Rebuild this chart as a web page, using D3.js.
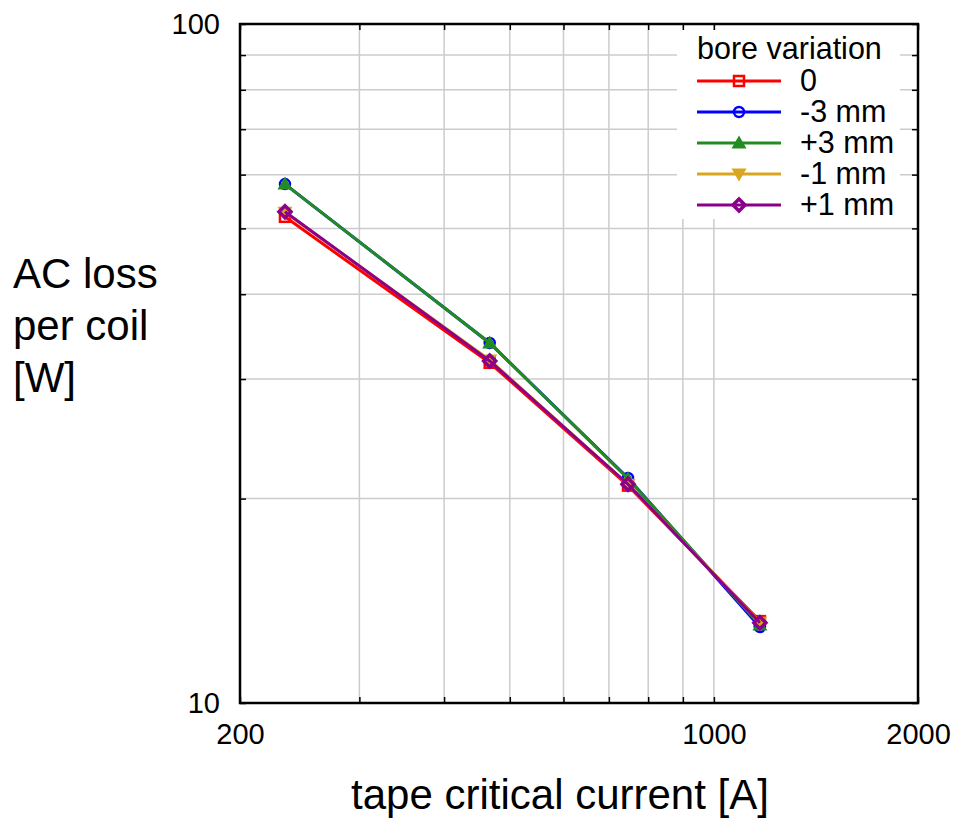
<!DOCTYPE html>
<html>
<head>
<meta charset="utf-8">
<script src="https://cdn.jsdelivr.net/npm/d3@7/dist/d3.min.js"></script>
<style>
  html, body { margin: 0; padding: 0; background: #fff; }
  svg { display: block; font-family: "Liberation Sans", Arial, sans-serif; }
</style>
</head>
<body>
<svg id="chart" width="959" height="818"></svg>
<script>
// ---- data ----
const current = [233, 467, 747, 1169];           // tape critical current [A]
const loss0   = [52.0, 31.7, 20.9, 13.2];        // bore variation 0
const lossM3  = [58.1, 33.9, 21.45, 12.94];      // -3 mm
const lossP3  = [58.1, 33.9, 21.4, 13.03];       // +3 mm
const lossM1  = [52.8, 32.0, 21.0, 13.15];       // -1 mm
const lossP1  = [52.9, 31.9, 21.0, 13.13];       // +1 mm
const seriesNames = ["0", "-3 mm", "+3 mm", "-1 mm", "+1 mm"];
const xTickLabels = [200, 1000, 2000];
const yTickLabels = [10, 100];
const xGrid = [300, 400, 500, 600, 700, 800, 900, 1000];
const yGrid = [20, 30, 40, 50, 60, 70, 80, 90];

// ---- layout ----
const svg = d3.select("#chart");
const L = 240, R = 918, T = 24, B = 703;
const x = d3.scaleLog().domain([200, 2000]).range([L, R]);
const y = d3.scaleLog().domain([10, 100]).range([B, T]);

const colors = ["#ff0000", "#0000ff", "#228b22", "#daa520", "#8b008b"];
const markers = ["square", "circle", "triangle", "triangleDown", "diamond"];
const seriesValues = [loss0, lossM3, lossP3, lossM1, lossP1];
const series = seriesNames.map((n, i) => ({
  name: n, color: colors[i], marker: markers[i],
  pts: current.map((c, j) => ({ x: c, y: seriesValues[i][j] }))
}));

// grid
const grid = svg.append("g").attr("stroke", "#cccccc").attr("stroke-width", 1.5);
grid.selectAll(".gx").data(xGrid).join("line")
  .attr("x1", d => x(d)).attr("x2", d => x(d)).attr("y1", T).attr("y2", B);
grid.selectAll(".gy").data(yGrid).join("line")
  .attr("x1", L).attr("x2", R).attr("y1", d => y(d)).attr("y2", d => y(d));

// legend background (covers grid)
const lgX = 677, lgY = 30;
svg.append("rect").attr("x", lgX).attr("y", lgY).attr("width", 223).attr("height", 189).attr("fill", "#fff");

// ticks (inward) via d3 axes
function tickAxis(axisFn, scale, vals, transform) {
  const g = svg.append("g").attr("transform", transform)
    .call(axisFn(scale).tickValues(vals).tickSize(-6).tickFormat(""));
  g.select(".domain").remove();
  g.selectAll(".tick line").attr("stroke", "#000").attr("stroke-width", 1.5);
  return g;
}
const xTickVals = [200].concat(xGrid).concat([2000]);
const yTickVals = [10].concat(yGrid).concat([100]);
tickAxis(d3.axisBottom, x, xTickVals, `translate(0,${B})`);
tickAxis(d3.axisTop, x, xTickVals, `translate(0,${T})`);
tickAxis(d3.axisLeft, y, yTickVals, `translate(${L},0)`);
tickAxis(d3.axisRight, y, yTickVals, `translate(${R},0)`);

// tick labels
const xl = svg.append("g").attr("transform", `translate(0,${B})`)
  .call(d3.axisBottom(x).tickValues(xTickLabels).tickSize(0).tickPadding(20).tickFormat(d3.format("d")));
xl.select(".domain").remove();
xl.selectAll("text").attr("font-size", 29).attr("fill", "#000")
  .attr("font-family", "Liberation Sans, Arial, sans-serif");
const yl = svg.append("g").attr("transform", `translate(${L},0)`)
  .call(d3.axisLeft(y).tickValues(yTickLabels).tickSize(0).tickPadding(20).tickFormat(d3.format("d")));
yl.select(".domain").remove();
yl.selectAll("text").attr("font-size", 29).attr("fill", "#000")
  .attr("font-family", "Liberation Sans, Arial, sans-serif");

// frame
svg.append("rect").attr("x", L).attr("y", T).attr("width", R - L).attr("height", B - T)
  .attr("fill", "none").attr("stroke", "#000").attr("stroke-width", 2.5);

// markers
function drawMarker(g, type, cx, cy, color) {
  const s = 5.5;
  if (type === "square") {
    g.append("rect").attr("x", cx - s + 0.5).attr("y", cy - s + 0.5).attr("width", 2 * s - 1).attr("height", 2 * s - 1)
      .attr("fill", "none").attr("stroke", color).attr("stroke-width", 2.5);
  } else if (type === "circle") {
    g.append("circle").attr("cx", cx).attr("cy", cy).attr("r", s - 0.5)
      .attr("fill", "none").attr("stroke", color).attr("stroke-width", 2.5);
  } else if (type === "triangle") {
    g.append("path").attr("d", `M${cx},${cy - 7.5}L${cx + 7.5},${cy + 5.5}L${cx - 7.5},${cy + 5.5}Z`).attr("fill", color);
  } else if (type === "triangleDown") {
    g.append("path").attr("d", `M${cx},${cy + 7.5}L${cx + 7.5},${cy - 5.5}L${cx - 7.5},${cy - 5.5}Z`).attr("fill", color);
  } else if (type === "diamond") {
    g.append("path").attr("d", `M${cx},${cy - 6}L${cx + 6},${cy}L${cx},${cy + 6}L${cx - 6},${cy}Z`)
      .attr("fill", "none").attr("stroke", color).attr("stroke-width", 3.5);
  }
}

// series
const line = d3.line().x(d => x(d.x)).y(d => y(d.y));
const plot = svg.append("g");
series.forEach(s => {
  plot.append("path").datum(s.pts).attr("d", line)
    .attr("fill", "none").attr("stroke", s.color).attr("stroke-width", 3);
  s.pts.forEach(p => drawMarker(plot, s.marker, x(p.x), y(p.y), s.color));
});

// legend
const lg = svg.append("g");
lg.append("text").attr("x", 697).attr("y", 59).attr("font-size", 30.5).text("bore variation");
series.forEach((s, i) => {
  const yy = 81 + i * 31;
  lg.append("line").attr("x1", 697).attr("x2", 781).attr("y1", yy).attr("y2", yy)
    .attr("stroke", s.color).attr("stroke-width", 3);
  drawMarker(lg, s.marker, 739, yy, s.color);
  lg.append("text").attr("x", 800).attr("y", yy + 10).attr("font-size", 30.5).text(s.name);
});

// axis titles
svg.append("text").attr("x", 560).attr("y", 809).attr("text-anchor", "middle")
  .attr("font-size", 42).text("tape critical current [A]");
const yt = svg.append("text").attr("x", 13).attr("font-size", 42);
["AC loss", "per coil", "[W]"].forEach((t, i) => {
  yt.append("tspan").attr("x", 13).attr("y", 288 + i * 52).text(t);
});
</script>
</body>
</html>
